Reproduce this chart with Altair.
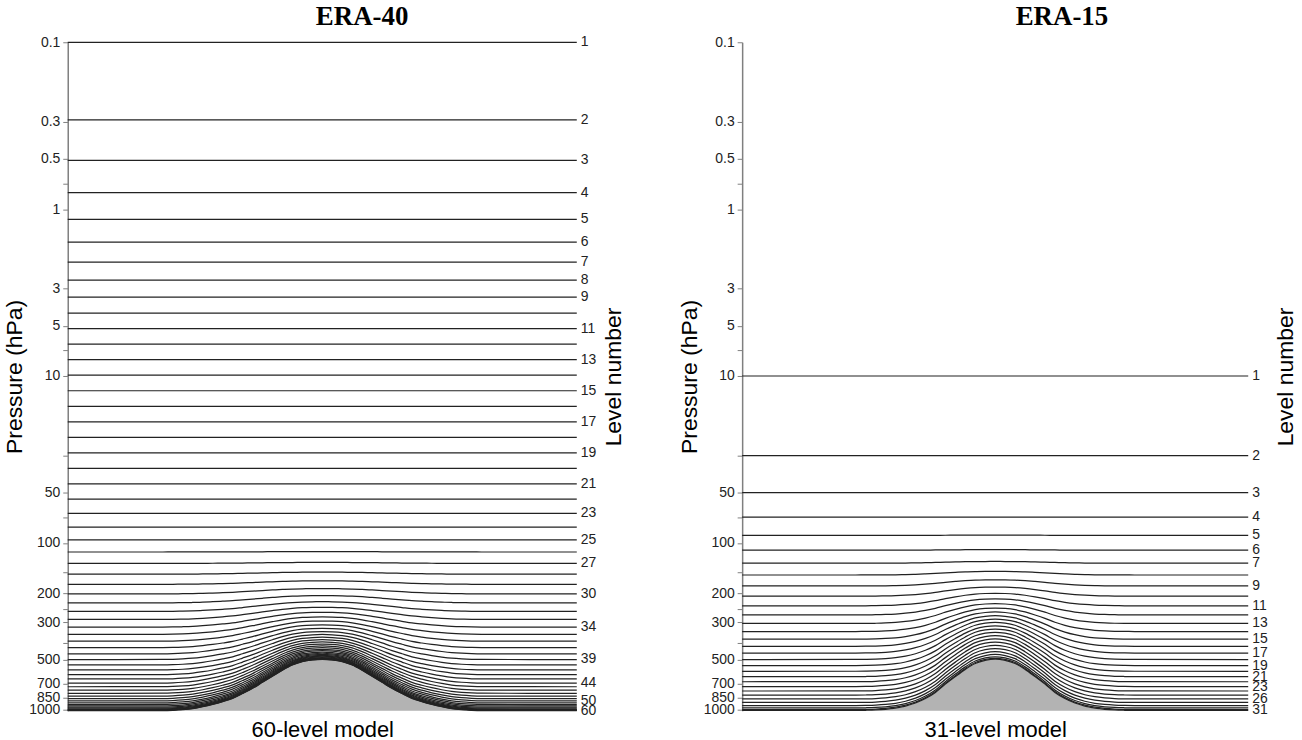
import altair as alt
import pandas as pd

SANS = "Liberation Sans"
SERIF = "Liberation Serif"

SURFACE_P = 1013.25   # surface pressure away from the mountain (hPa)

# ---- ERA-40 (60-level) half-level hybrid coefficients: a in Pa, b dimensionless
L60_A_PA = [0.0, 20.0, 38.425343, 63.647804, 95.636963, 134.483307, 180.584351,
            234.779053, 298.495789, 373.971924, 464.618134, 575.651001, 713.218079,
            883.660522, 1094.834717, 1356.474609, 1680.640259, 2082.273926,
            2579.888672, 3196.421631, 3960.291504, 4906.708496, 6018.019531,
            7306.631348, 8765.053711, 10376.126953, 12077.446289, 13775.325195,
            15379.805664, 16819.474609, 18045.183594, 19027.695313, 19755.109375,
            20222.205078, 20429.863281, 20384.480469, 20097.402344, 19584.330078,
            18864.75, 17961.357422, 16899.46875, 15706.447266, 14411.124023,
            13043.21875, 11632.758789, 10209.500977, 8802.356445, 7438.803223,
            6144.314941, 4941.77832, 3850.91333, 2887.696533, 2063.779785,
            1385.912598, 855.361755, 467.333588, 210.39389, 65.889244, 7.367743,
            0.0, 0.0]
L60_B = [0.0, 0.0, 0.0, 0.0, 0.0, 0.0, 0.0, 0.0, 0.0, 0.0, 0.0, 0.0,
         0.0, 0.0, 0.0, 0.0, 0.0, 0.0, 0.0, 0.0, 0.0, 0.0, 0.0, 0.0,
         0.00007582, 0.00046139, 0.00181516, 0.00508112, 0.01114291, 0.02067788,
         0.03412116, 0.05169041, 0.07353383, 0.09967469, 0.13002251, 0.16438432,
         0.20247594, 0.24393314, 0.28832296, 0.33515489, 0.38389215, 0.43396294,
         0.48477158, 0.53570992, 0.58616841, 0.63554746, 0.68326861, 0.72878581,
         0.77159661, 0.81125343, 0.84737492, 0.87965691, 0.90788388, 0.93194032,
         0.95182151, 0.96764523, 0.97966272, 0.98827010, 0.99401945, 0.99763012,
         1.0]

# ---- ERA-15 (31-level) half-level hybrid coefficients
L31_A_PA = [0.0, 2000.0, 4000.0, 6000.0, 8000.0, 9976.135361, 11820.539617,
            13431.394356, 14736.355454, 15689.207458, 16266.609724, 16465.003727,
            16297.62162, 15791.598981, 14985.269327, 13925.51776, 12665.29103,
            11261.228454, 9771.406212, 8253.212096, 6761.341326, 5345.91424,
            4050.717678, 2911.569385, 1954.805296, 1195.889791, 638.148911,
            271.626545, 72.063577, 0.0, 0.0, 0.0]
L31_B = [0.0, 0.0, 0.0, 0.0, 0.0, 0.00039086, 0.0029197, 0.00919413, 0.02031916,
         0.03697486, 0.05948764, 0.08789495, 0.12200359, 0.16144152, 0.20570324,
         0.25418862, 0.30623539, 0.36114502, 0.41820227, 0.47668818, 0.53588658,
         0.59508427, 0.65356639, 0.71059633, 0.76548071, 0.81751276, 0.86596004,
         0.91007162, 0.94902466, 0.975, 0.9925, 1.0]

# ---- surface pressure of the mountain (distance from the peak -> hPa)
LEFT_DIST = [0, 10, 20, 30, 40, 50, 60, 70, 80, 90, 100, 110, 120, 130, 140, 150, 160]
LEFT_PS = [500, 504, 515, 540, 580, 630, 685, 745, 800, 855, 895, 930, 960, 985,
           1000, 1009, 1013]
RIGHT_DIST = [0, 10, 20, 30, 40, 50, 60, 70, 80, 90, 100, 110, 120, 130, 140]
RIGHT_PS = [500, 508, 530, 575, 635, 705, 790, 860, 915, 955, 982, 998, 1007,
            1011, 1013]

# ---- axis ticks and level-number labels
PRESSURE_TICKS = [0.1, 0.3, 0.5, 0.7, 1, 3, 5, 7, 10, 30, 50, 70, 100, 150, 200,
                  250, 300, 400, 500, 700, 850, 1000]
UNLABELLED_TICKS = [0.7, 7, 30, 70, 150, 250, 400]
LEFT_LEVEL_LABELS = [1, 2, 3, 4, 5, 6, 7, 8, 9, 11, 13, 15, 17, 19, 21, 23, 25, 27,
                     30, 34, 39, 44, 50, 60]
RIGHT_LEVEL_LABELS = [1, 2, 3, 4, 5, 6, 7, 9, 11, 13, 15, 17, 19, 21, 23, 26, 31]

PLOT_H = 671


def profile(dists, ps_vals, half_w):
    xs = [-half_w] + [-d for d in reversed(dists[1:])] + dists + [half_w]
    ps = [SURFACE_P] + list(reversed(ps_vals[1:])) + ps_vals + [SURFACE_P]
    return xs, ps


def make_panel(title, title_dx, a_pa, b, dists, ps_vals, labelled, width,
               bottom_title):
    half_w = width / 2.0
    n = len(a_pa) - 1
    A = [(a_pa[i] + a_pa[i + 1]) / 200.0 for i in range(n)]
    B = [(b[i] + b[i + 1]) / 2.0 for i in range(n)]
    xs, pss = profile(dists, ps_vals, half_w)

    area_df = pd.DataFrame({"x": xs, "ps": pss, "base": SURFACE_P})
    rows = []
    for x, ps in zip(xs, pss):
        for k in range(n):
            rows.append({"x": x, "p": A[k] + B[k] * ps, "level": k + 1})
    line_df = pd.DataFrame(rows)
    lab_df = pd.DataFrame({
        "x": [half_w] * len(labelled),
        "p": [A[k - 1] + B[k - 1] * SURFACE_P for k in labelled],
        "lev": [str(k) for k in labelled],
    })

    def yscale():
        return alt.Scale(type="log", domain=[0.1, SURFACE_P], reverse=True,
                         nice=False, zero=False)

    x_axis = alt.Axis(labels=False, ticks=False, domain=False, grid=False,
                      title=bottom_title, titleFont=SANS, titleFontSize=22,
                      titleFontWeight="normal", titleColor="black", titlePadding=9)
    x_enc = alt.X("x:Q", scale=alt.Scale(domain=[-half_w, half_w], nice=False,
                                         zero=False), axis=x_axis)

    area = alt.Chart(area_df).mark_area(color="#b3b3b3", interpolate="monotone").encode(
        x=x_enc,
        y=alt.Y("ps:Q", scale=yscale(), axis=None),
        y2="base:Q",
    )

    label_expr = ("indexof(" + str(UNLABELLED_TICKS) +
                  ", datum.value) >= 0 ? '' : datum.label")
    lines = alt.Chart(line_df).mark_line(color="#222222", strokeWidth=1.25,
                                         interpolate="monotone").encode(
        x=x_enc,
        y=alt.Y("p:Q", scale=yscale(), axis=alt.Axis(
            orient="left", values=PRESSURE_TICKS, labelExpr=label_expr,
            format="~g", title="Pressure (hPa)", titleFont=SANS,
            titleFontSize=23, titleFontWeight="normal", titleColor="black",
            titlePadding=2, labelFont=SANS, labelFontSize=14, labelColor="#222",
            labelPadding=3, tickSize=5, tickColor="#7f7f7f", domainColor="#7f7f7f",
            domainWidth=1.5, grid=False, labelOverlap=False, labelFlush=False,
            labelBound=False)),
        detail="level:N",
    )

    labels = alt.Chart(lab_df).mark_text(align="left", baseline="middle", dx=4,
                                         fontSize=14, font=SANS,
                                         color="#222").encode(
        x=x_enc,
        y=alt.Y("p:Q", scale=yscale(), axis=alt.Axis(
            orient="right", labels=False, ticks=False, domain=False, grid=False,
            title="Level number", titleAngle=270, titleBaseline="top",
            titlePadding=26, titleFont=SANS, titleFontSize=23,
            titleFontWeight="normal", titleColor="black")),
        text="lev:N",
    )

    return alt.layer(area, lines, labels).resolve_scale(y="independent").properties(
        width=width, height=PLOT_H,
        title=alt.TitleParams(text=title, font=SERIF, fontSize=27,
                              fontWeight="bold", color="black", anchor="middle",
                              frame="group", dx=title_dx, offset=4),
    )


left = make_panel("ERA-40", 40, L60_A_PA, L60_B, LEFT_DIST, LEFT_PS,
                  LEFT_LEVEL_LABELS, 511, "60-level model")
right = make_panel("ERA-15", 67, L31_A_PA, L31_B, RIGHT_DIST, RIGHT_PS,
                   RIGHT_LEVEL_LABELS, 508, "31-level model")

chart = alt.hconcat(left, right, spacing=52).properties(
    padding={"left": 3, "top": 2, "right": 5, "bottom": 0},
    background="white",
).configure_view(stroke=None)

chart.save("out.html", embed_options={"renderer": "svg", "actions": False})
